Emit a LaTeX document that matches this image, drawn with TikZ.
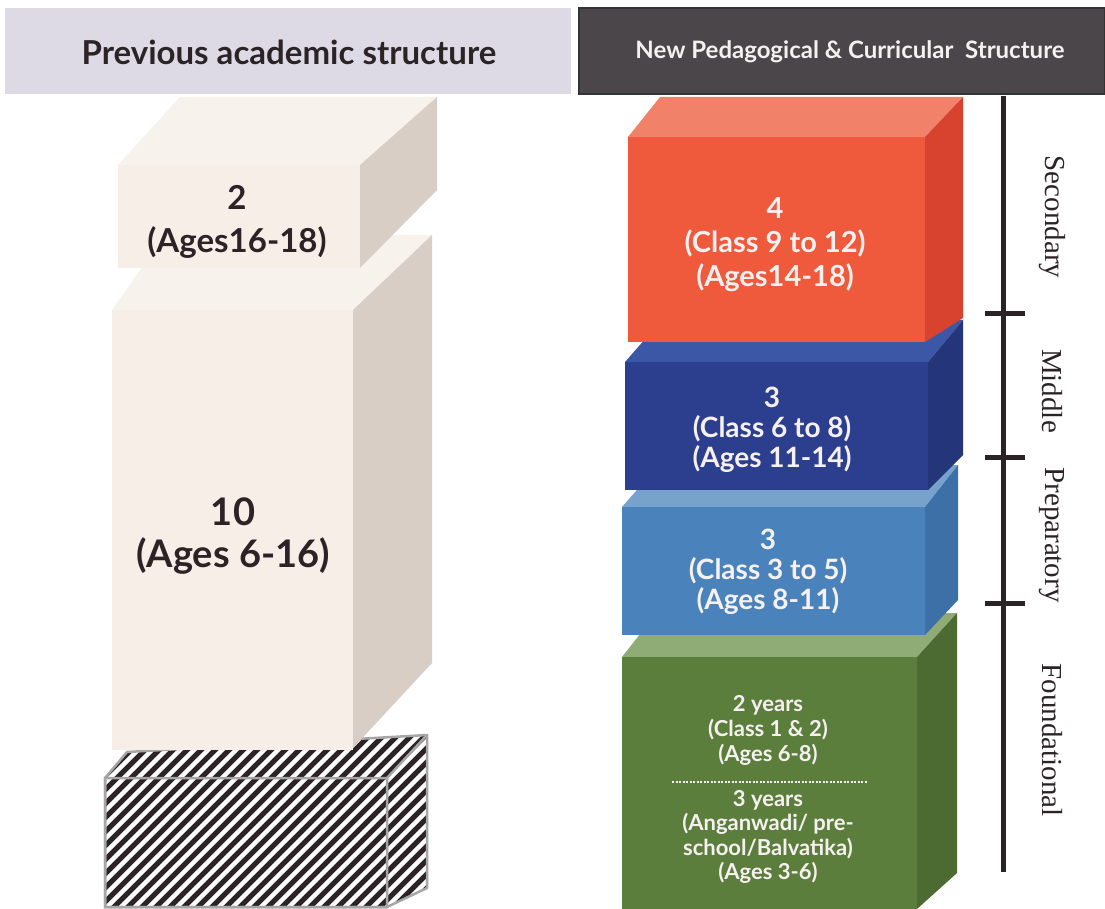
\documentclass[tikz,border=0pt]{standalone}
\usepackage{fontspec}
\setmainfont{Lato}
\newfontfamily\tnr{Liberation Serif}
\definecolor{hdrL}{HTML}{DDDAE6}
\definecolor{hdrR}{HTML}{4B4649}
\definecolor{ink}{HTML}{2B2326}
\definecolor{begF}{HTML}{F6EEE7}
\definecolor{begT}{HTML}{F8F2EC}
\definecolor{begR}{HTML}{D8CEC6}
\definecolor{redF}{HTML}{EE5A3B}
\definecolor{redT}{HTML}{F2816A}
\definecolor{redR}{HTML}{D8432F}
\definecolor{dbF}{HTML}{2C3F8E}
\definecolor{dbT}{HTML}{3C57A6}
\definecolor{dbR}{HTML}{24357A}
\definecolor{lbF}{HTML}{4A83BC}
\definecolor{lbT}{HTML}{76A2CC}
\definecolor{lbR}{HTML}{3D70A6}
\definecolor{grF}{HTML}{5C7E3D}
\definecolor{grT}{HTML}{8FAB76}
\definecolor{grR}{HTML}{4C6B33}
\definecolor{wtxt}{HTML}{F6F1F0}
\tikzset{
  lbl/.style={font=\bfseries, text=ink, align=center, inner sep=0pt},
  wlbl/.style={font=\bfseries, text=wtxt, align=center, inner sep=0pt},
  stage/.style={font=\tnr\fontsize{29}{31}\selectfont, text=ink, rotate=-90, inner sep=0pt},
  tl/.style={draw=ink, line width=5pt},
}
\begin{document}
\begin{tikzpicture}[x=1pt,y=-1pt]
\fill[white] (0,0) rectangle (1105,909);
\useasboundingbox (0,0) rectangle (1105,909);
% headers
\fill[hdrL] (5,8) rectangle (571,94);
\node[lbl, font=\bfseries\fontsize{33}{36}\selectfont] (hL) at (289,52) {Previous academic structure};
\fill[hdrR, draw=black!80, line width=1.5pt] (579,8) rectangle (1105,94);
\node[wlbl, font=\bfseries\fontsize{24}{26}\selectfont] (hR) at (850,52) {New Pedagogical \& Curricular\ \ Structure};
% ---------- left column ----------
% hatched box
\begin{scope}
\clip (105,778) -- (127,752) -- (427,735) -- (427,888) -- (387,907) -- (105,907) -- cycle;
\fill[ink] (100,730) rectangle (430,910);
\foreach \i in {-120,-106,...,440} \draw[white, line width=4.5pt] (\i,910) -- ++(190,-190);
\end{scope}
\draw[gray!70, line width=2.5pt, line join=round] (105,778) -- (127,752) -- (427,735) -- (427,888) -- (387,907) -- (105,907) -- cycle;
\draw[gray!70, line width=2.5pt] (105,778) rectangle (387,907) (387,778) -- (427,735);
% big box
\fill[begT] (112,310) -- (165,235) -- (432,235) -- (353,310) -- cycle;
\fill[begR] (353,310) -- (432,235) -- (432,663) -- (353,748) -- cycle;
\fill[begF] (112,310) rectangle (353,750);
\node[lbl, font=\bfseries\fontsize{38}{42}\selectfont] (ten) at (233,536) {10\\(Ages 6-16)};
% top box
\fill[begT] (118,165) -- (180,97) -- (437,97) -- (360,165) -- cycle;
\fill[begR] (360,165) -- (437,97) -- (437,190) -- (360,268) -- cycle;
\fill[begF] (118,165) rectangle (360,268);
\node[lbl, font=\bfseries\fontsize{33}{43}\selectfont] (two) at (237,222) {2\\(Ages16-18)};
% ---------- right column ----------
% green
\fill[grT] (622,657) -- (655,615) -- (957,613) -- (917,657) -- cycle;
\fill[grR] (917,657) -- (957,613) -- (957,873) -- (917,909) -- cycle;
\fill[grF] (622,657) rectangle (917,909);
\node[wlbl, font=\bfseries\fontsize{22}{25}\selectfont] (f1) at (768,730) {2 years\\(Class 1 \& 2)\\(Ages 6-8)};
\coordinate (dl) at (672,782);
\coordinate (dr) at (867,782);
\draw[wtxt, line width=1.5pt, dash pattern=on 2pt off 1.5pt] (dl) -- (dr);
\node[wlbl, font=\bfseries\fontsize{22}{24.5}\selectfont] (f2) at (768,837) {3 years\\(Anganwadi/ pre-\\school/Balvatika)\\(Ages 3-6)};
% light blue
\fill[lbT] (622,507) -- (657,467) -- (958,465) -- (925,507) -- cycle;
\fill[lbR] (925,507) -- (958,465) -- (958,600) -- (925,635) -- cycle;
\fill[lbF] (622,507) rectangle (925,635);
\node[wlbl, font=\bfseries\fontsize{28}{30}\selectfont] (prep) at (768,572) {3\\(Class 3 to 5)\\(Ages 8-11)};
% dark blue
\fill[dbT] (625,362) -- (660,322) -- (963,320) -- (928,362) -- cycle;
\fill[dbR] (928,362) -- (963,320) -- (963,455) -- (928,490) -- cycle;
\fill[dbF] (625,362) rectangle (928,490);
\node[wlbl, font=\bfseries\fontsize{28}{30}\selectfont] (mid) at (772,430) {3\\(Class 6 to 8)\\(Ages 11-14)};
% red
\fill[redT] (628,137) -- (660,97) -- (963,97) -- (925,137) -- cycle;
\fill[redR] (925,137) -- (963,97) -- (963,318) -- (925,342) -- cycle;
\fill[redF] (628,137) rectangle (925,342);
\node[wlbl, font=\bfseries\fontsize{29}{34}\selectfont] (sec) at (775,245) {4\\(Class 9 to 12)\\(Ages14-18)};
% ---------- timeline ----------
\coordinate (t0) at (1003,96);
\coordinate (t4) at (1003,872);
\draw[tl] (t0) -- (t4);
\coordinate (a1) at (985,313); \coordinate (b1) at (1025,313);
\coordinate (a2) at (985,457); \coordinate (b2) at (1025,457);
\coordinate (a3) at (985,603); \coordinate (b3) at (1025,603);
\draw[tl] (a1) -- (b1);
\draw[tl] (a2) -- (b2);
\draw[tl] (a3) -- (b3);
\node[stage] (s1) at (1052,217) {Secondary};
\node[stage] (s2) at (1052,391) {Middle};
\node[stage] (s3) at (1052,535) {Preparatory};
\node[stage] (s4) at (1052,740) {Foundational};
\end{tikzpicture}
\end{document}
